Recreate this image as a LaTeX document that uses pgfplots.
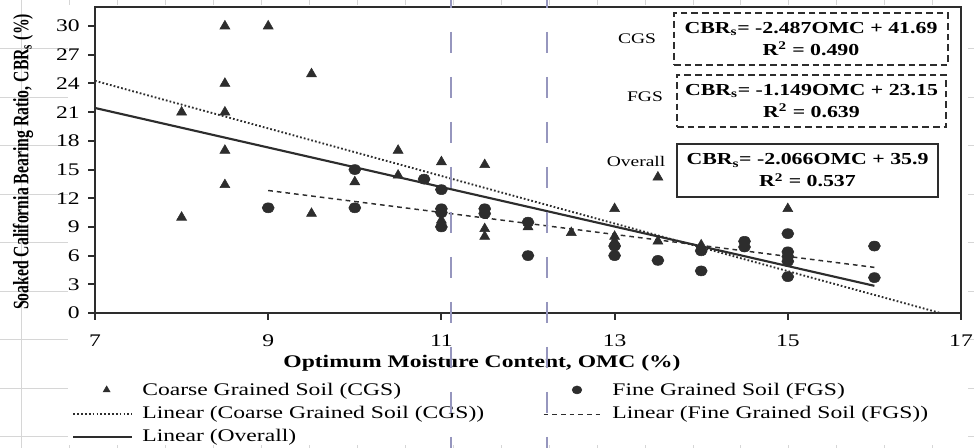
\documentclass[border=0pt]{standalone}
\usepackage{fontspec}
\setmainfont{Liberation Serif}[FakeStretch=1.33]
\newfontfamily\ylabfont{Liberation Serif}
\newfontfamily\boxfont{Liberation Serif Bold}[FakeStretch=1.3]
\usepackage{graphicx}
\usepackage{pgfplots}
\usepackage{pgfplotstable}
\pgfplotsset{compat=1.18}

\definecolor{ink}{RGB}{45,45,45}
\definecolor{pagebrk}{RGB}{150,150,190}
\definecolor{sheetgrid}{RGB}{214,214,214}

\pgfplotsset{
  lineleg/.style={legend image code/.code={\draw[##1] (0pt,0pt) -- (44pt,0pt);}},
  markleg/.style={legend image code/.code={\path (0pt,0pt) (44pt,0pt);
      \draw[##1, mark size=3pt] plot coordinates {(25pt,1pt)};}},
}

% coarse grained soil
\pgfplotstableread{
x y
8 10
8 21
8.5 30
8.5 24
8.5 21
8.5 17
8.5 13.4
9 30
9.5 25
9.5 10.4
10 13.7
10.5 17
10.5 14.4
11 15.8
11 9.7
11.5 15.5
11.5 8.8
11.5 8
12 9
12.5 8.4
13 10.9
13 8
13 7.5
13.5 14.2
13.5 7.5
14 7.1
15 10.9
}\cgs

% fine grained soil
\pgfplotstableread{
x y
9 11
10 15
10 11
10.8 14
11 12.9
11 10.9
11 10.5
11 9
11.5 10.9
11.5 10.4
12 9.5
12 6
13 7
13 6
13.5 5.5
14 6.5
14 4.4
14.5 7.5
14.5 6.9
15 8.3
15 6.4
15 5.9
15 5.4
15 3.8
16 7
16 3.7
}\fgs

\begin{document}
\begin{tikzpicture}
\useasboundingbox (0,0) rectangle (730.5pt,336pt);
% spreadsheet behind the chart
\begin{scope}[x=0.75pt,y=-0.75pt,yshift=336pt]
  \foreach \k in {0,...,19}
    \draw[sheetgrid,line width=0.75pt] ({21.7+47.95*\k},0) -- ({21.7+47.95*\k},448);
  \foreach \k in {0,...,8}
    \draw[sheetgrid,line width=0.75pt] (0,{49+48.5*\k}) -- (974,{49+48.5*\k});
  \fill[white] (68,5) rectangle (968,445);
\end{scope}

\begin{axis}[
    at={(71.25pt,101.25pt)}, anchor=south west,
    scale only axis,
    width=649.5pt, height=229.5pt,
    xmin=7, xmax=17, ymin=0, ymax=32,
    xtick={7,9,...,17},
    ytick={0,3,...,30},
    axis line style={ink, line width=1.5pt},
    tick align=outside, tick pos=left,
    major tick length=5pt,
    tick style={ink, line width=1.5pt},
    /pgf/number format/assume math mode=true,
    tick label style={font=\fontsize{13.3}{15}\selectfont, text=black},
    xticklabel style={yshift=-8pt},
    yticklabel style={xshift=-3pt},
    xlabel={Optimum Moisture Content, OMC (\%)},
    xlabel style={at={(axis description cs:0.4469,-0.163)}, anchor=center,
        font=\bfseries\fontsize{13.3}{15}\selectfont},
    ylabel={\scalebox{1}[1.4]{\ylabfont\bfseries Soaked California Bearing Ratio, CBR\textsubscript{s} (\%)}},
    ylabel style={at={(axis description cs:-0.0831,0.4935)}, anchor=center,
        font=\fontsize{11.8}{13}\selectfont},
    legend columns=2,
    legend cell align=left,
    legend style={draw=none, fill=none,
        at={(axis description cs:-0.0312,-0.2124)}, anchor=north west,
        font=\fontsize{13.3}{15}\selectfont,
        nodes={inner sep=1pt, text height=10pt, text depth=3.5pt},
        row sep=1.75pt,
        /tikz/every even column/.append style={column sep=43pt},
        /tikz/every odd column/.append style={column sep=6pt}},
    lineleg,
]

\addplot[only marks, mark=triangle*, mark size=4.3pt, color=ink, markleg]
    table[x=x, y=y] {\cgs};
\addlegendentry{Coarse Grained Soil (CGS)}

\addplot[only marks, mark=*, mark size=3.75pt, color=ink,
    mark options={xscale=1.2}, markleg]
    table[x=x, y=y] {\fgs};
\addlegendentry{Fine Grained Soil (FGS)}

% trend lines from the fitted equations
\addplot[ink, line width=1.4pt, dash pattern=on 1.3pt off 1.6pt] coordinates {(7,24.28) (16.76,0)};
\addlegendentry{Linear (Coarse Grained Soil (CGS))}

\addplot[ink, line width=1.1pt, dash pattern=on 3.5pt off 3pt] coordinates {(9,12.81) (16,4.77)};
\addlegendentry{Linear (Fine Grained Soil (FGS))}

\addplot[ink, line width=1.6pt] coordinates {(7,21.44) (16,2.84)};
\addlegendentry{Linear (Overall)}
\end{axis}

% equation boxes and page-break marks
\begin{scope}[x=0.75pt,y=-0.75pt,yshift=336pt]
  \tikzset{eqbox/.style={draw=ink, line width=1.5pt, fill=white, align=center,
      inner sep=0pt, font=\boxfont\fontsize{12.6}{16.5}\selectfont}}
  \node[eqbox, dash pattern=on 5pt off 3pt, minimum width=205.5pt, minimum height=39pt]
    at (811,39) {CBR\textsubscript{s}= -2.487OMC + 41.69\\R\textsuperscript{2} = 0.490};
  \node[eqbox, dash pattern=on 5pt off 3pt, minimum width=201.75pt, minimum height=39pt]
    at (811.5,101) {CBR\textsubscript{s}= -1.149OMC + 23.15\\R\textsuperscript{2} = 0.639};
  \node[eqbox, minimum width=195.75pt, minimum height=39.75pt]
    at (807.5,170.5) {CBR\textsubscript{s}= -2.066OMC + 35.9\\R\textsuperscript{2} = 0.537};
  \node[font=\fontsize{11}{13}\selectfont, text=black] at (637,39) {CGS};
  \node[font=\fontsize{11}{13}\selectfont, text=black] at (645,97) {FGS};
  \node[font=\fontsize{11}{13}\selectfont, text=black] at (636,161) {Overall};
  \draw[pagebrk, line width=1.5pt, dash pattern=on 15.75pt off 18pt] (450.7,-13) -- (450.7,448);
  \draw[pagebrk, line width=1.5pt, dash pattern=on 15.75pt off 18pt] (546.7,-13) -- (546.7,448);
\end{scope}
\end{tikzpicture}
\end{document}
